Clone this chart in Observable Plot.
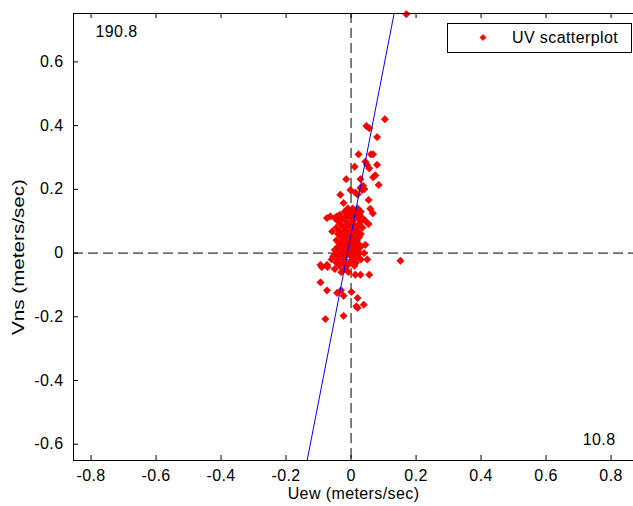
<!DOCTYPE html>
<html><head><meta charset="utf-8">
<script src="https://cdn.jsdelivr.net/npm/d3@7"></script>
<script src="https://cdn.jsdelivr.net/npm/@observablehq/plot@0.6"></script>
<style>body{margin:0;background:#fff} svg{display:block}</style>
</head><body><div id="chart"></div>
<script>
// Velocity components (meters/sec)
const uew = [
  0.104, 0.047, 0.056, 0.080, 0.023, 0.061, 0.068, 0.044, 0.011, 0.049, 0.056, 0.080,
  0.075, 0.068, -0.015, 0.029, 0.085, 0.037, 0.029, 0.034, 0.041, -0.002, -0.033, 0.013,
  0.020, 0.054, -0.023, 0.059, 0.067, -0.064, -0.074, -0.044, -0.030, 0.044, 0.054, -0.058,
  0.044, 0.152, -0.094, -0.074, -0.090, -0.072, 0.013, 0.029, 0.056, -0.094, -0.074, -0.043,
  -0.031, 0.001, -0.023, 0.020, 0.039, 0.020, 0.016, -0.079, -0.023, 0.170,
  -0.010, 0.005, 0.020,
  -0.020, 0.000, 0.015, 0.030,
  -0.035, -0.010, 0.010, 0.025,
  -0.050, -0.020, 0.000, 0.020, 0.035,
  -0.040, -0.015, 0.005, 0.030,
  -0.030, -0.010, 0.010, 0.025,
  -0.045, -0.020, 0.000, 0.015, 0.035,
  -0.035, -0.015, 0.005, 0.020,
  -0.040, -0.025, -0.010, 0.005, 0.020, 0.030,
  -0.030, -0.015, 0.000, 0.012, 0.025,
  -0.045, -0.025, -0.010, 0.005, 0.018,
  -0.035, -0.020, -0.005, 0.010, 0.022,
  -0.040, -0.028, -0.012, 0.000, 0.015, 0.030,
  -0.050, -0.030, -0.015, 0.002, 0.020,
  -0.045, -0.025, -0.008, 0.008, 0.025, 0.040,
  -0.055, -0.035, -0.018, 0.000, 0.018,
  -0.060, -0.040, -0.020, 0.005, 0.030, 0.050,
  -0.045, -0.025, -0.005, 0.015,
  -0.035, -0.012, 0.010,
  -0.050, -0.020,
  -0.030, -0.008
];
const vns = [
  0.420, 0.399, 0.392, 0.364, 0.310, 0.310, 0.310, 0.287, 0.271, 0.277, 0.266, 0.277,
  0.244, 0.238, 0.232, 0.232, 0.214, 0.211, 0.205, 0.198, 0.201, 0.198, 0.183, 0.190,
  0.184, 0.167, 0.157, 0.139, 0.125, 0.115, 0.110, 0.115, 0.108, 0.101, 0.091, 0.068,
  0.026, -0.024, -0.037, -0.037, -0.044, -0.044, -0.068, -0.068, -0.068, -0.092, -0.117, -0.125,
  -0.117, -0.122, -0.134, -0.141, -0.162, -0.172, -0.167, -0.207, -0.197, 0.750,
  0.14, 0.14, 0.14,
  0.13, 0.13, 0.13, 0.13,
  0.12, 0.12, 0.12, 0.12,
  0.11, 0.11, 0.11, 0.11, 0.11,
  0.10, 0.10, 0.10, 0.10,
  0.09, 0.09, 0.09, 0.09,
  0.08, 0.08, 0.08, 0.08, 0.08,
  0.07, 0.07, 0.07, 0.07,
  0.06, 0.06, 0.06, 0.06, 0.06, 0.06,
  0.05, 0.05, 0.05, 0.05, 0.05,
  0.04, 0.04, 0.04, 0.04, 0.04,
  0.03, 0.03, 0.03, 0.03, 0.03,
  0.02, 0.02, 0.02, 0.02, 0.02, 0.02,
  0.01, 0.01, 0.01, 0.01, 0.01,
  0.00, 0.00, 0.00, 0.00, 0.00, 0.00,
  -0.01, -0.01, -0.01, -0.01, -0.01,
  -0.02, -0.02, -0.02, -0.02, -0.02, -0.02,
  -0.03, -0.03, -0.03, -0.03,
  -0.04, -0.04, -0.04,
  -0.05, -0.05,
  -0.06, -0.06
];
const xTicks = [-0.8, -0.6, -0.4, -0.2, 0, 0.2, 0.4, 0.6, 0.8];
const yTicks = [-0.6, -0.4, -0.2, 0, 0.2, 0.4, 0.6];
const xDomain = [-0.854, 0.869];
const yDomain = [-0.651, 0.752];
const majorAxisDeg = 10.8;      // principal axis direction (degrees from north)
const majorAxisCenterU = -0.011; // u where the principal axis crosses v = 0
const topLeftLabel = "190.8";
const bottomRightLabel = "10.8";
const legendLabel = "UV scatterplot";
const xLabel = "Uew (meters/sec)";
const yLabel = "Vns (meters/sec)";

const W = 633, H = 506, mL = 73, mT = 13, mB = 46, mR = 0;
const FONT = "'Liberation Sans', Arial, sans-serif";
const points = uew.map((u, i) => ({u, v: vns[i]}));
const slope = Math.tan(majorAxisDeg * Math.PI / 180);
const axisLine = [yDomain[0] - 0.2, yDomain[1] + 0.2].map(v => ({u: majorAxisCenterU + v * slope, v}));
const fmt = d => String(d);

const chart = Plot.plot({
  width: W, height: H,
  marginLeft: mL, marginTop: mT, marginBottom: mB, marginRight: mR,
  style: {fontFamily: FONT, fontSize: "16px", letterSpacing: "0.4px", color: "#000", background: "#fff", overflow: "visible"},
  x: {domain: xDomain, ticks: xTicks, tickFormat: fmt, tickSize: 0, tickPadding: 9, label: null},
  y: {domain: yDomain, ticks: yTicks, tickFormat: fmt, tickSize: 0, tickPadding: 10, label: null},
  marks: [
    Plot.ruleY([0], {stroke: "#000", strokeDasharray: "10,5"}),
    Plot.ruleX([0], {stroke: "#000", strokeDasharray: "10,5"}),
    Plot.dot(points, {x: "u", y: "v", symbol: "diamond2", r: 3.3, fill: "#ff0000", stroke: "#d40000", strokeWidth: 0.6}),
    Plot.line(axisLine, {x: "u", y: "v", stroke: "#0000ff", strokeWidth: 1, clip: true}),
    Plot.tickX(xTicks, {x: d => d, stroke: "#000", insetTop: H - mT - mB - 5}),
    Plot.tickX(xTicks, {x: d => d, stroke: "#000", insetBottom: H - mT - mB - 5}),
    Plot.tickY(yTicks, {y: d => d, stroke: "#000", insetRight: W - mL - mR - 5}),
    Plot.ruleX([xDomain[0]], {stroke: "#000"}),
    Plot.ruleY(yDomain, {stroke: "#000"}),
    Plot.text([topLeftLabel], {text: d => d, frameAnchor: "top-left", dx: 22, dy: 12, fontSize: 16}),
    Plot.text([bottomRightLabel], {text: d => d, frameAnchor: "bottom-right", dx: -18, dy: -16, fontSize: 16}),
    Plot.text([xLabel], {text: d => d, frameAnchor: "bottom", lineAnchor: "bottom", dy: 38, fontSize: 16}),
    Plot.text([yLabel], {text: d => d, frameAnchor: "left", textAnchor: "middle", dx: -55, dy: 20, rotate: -90, fontSize: 16, className: "ylab"})
  ]
});
document.getElementById("chart").appendChild(chart);

// stretch the rotated y label to the length seen in the reference
d3.select(chart).selectAll(".ylab text")
  .style("letter-spacing", "0px")
  .attr("textLength", 156).attr("lengthAdjust", "spacingAndGlyphs");

// Legend box inside the plot, top-right
const svg = d3.select(chart);
const lg = svg.append("g").attr("font-family", FONT).attr("font-size", 16).attr("text-anchor", "start");
lg.append("rect").attr("x", 447.5).attr("y", 23.5).attr("width", 184).attr("height", 29)
  .attr("fill", "#fff").attr("stroke", "#000");
lg.append("path").attr("d", d3.symbol(d3.symbolDiamond2, 24)()).attr("transform", "translate(483,37.5)")
  .attr("fill", "#ff0000").attr("stroke", "#d40000").attr("stroke-width", 0.6);
lg.append("text").attr("x", 512).attr("y", 43).text(legendLabel);
</script>
</body></html>
